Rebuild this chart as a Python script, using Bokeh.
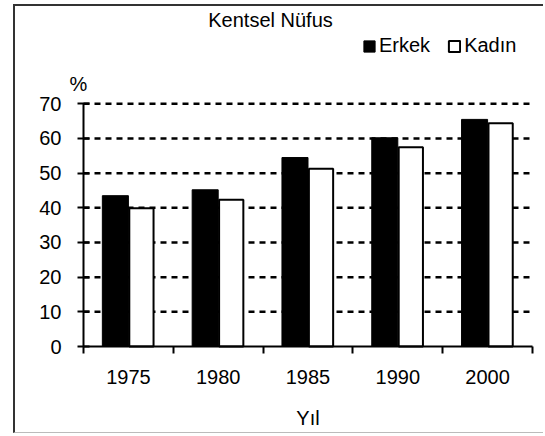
from bokeh.plotting import figure
from bokeh.models import (ColumnDataSource, FixedTicker, Label, Legend, LegendItem, Range1d)
from bokeh.transform import dodge
from bokeh.embed import file_html
from bokeh.resources import INLINE

years = ["1975", "1980", "1985", "1990", "2000"]
erkek = [43.5, 45.2, 54.5, 60.2, 65.5]
kadin = [39.9, 42.3, 51.3, 57.5, 64.4]
y_ticks = [0, 10, 20, 30, 40, 50, 60, 70]

FONT = "Liberation Sans"
FS = "20px"

n = len(years)
pos = [i + 0.5 for i in range(n)]
src = ColumnDataSource(dict(x=pos, erkek=erkek, kadin=kadin))
grid_src = ColumnDataSource(dict(y=y_ticks[1:], x0=[0] * (len(y_ticks) - 1),
                                 x1=[n] * (len(y_ticks) - 1)))

W, H = 530, 429
# frame fills the whole canvas; axes are fixed at x=0 / y=0
x_px = 449 / n           # pixels per category
y_px = 242.7 / 70        # pixels per percent
x_start = -68 / x_px
x_end = n + (W - 68 - 449) / x_px
y_start = -(H - 340) / y_px
y_end = 70 + 97.3 / y_px

p = figure(width=W, height=H, output_backend="svg", toolbar_location=None,
           x_range=Range1d(x_start, x_end), y_range=Range1d(y_start, y_end),
           min_border=0, margin=(4, 0, 0, 13))
p.styles = {"border-left": "2px solid #333333", "border-top": "2px solid #333333",
            "border-bottom": "1px solid #bbbbbb"}
p.outline_line_color = None
p.background_fill_color = "white"
p.border_fill_color = "white"
p.grid.visible = False

p.segment(x0="x0", x1="x1", y0="y", y1="y", source=grid_src, line_color="black",
          line_width=2.5, line_dash="6 5")

r1 = p.vbar(x=dodge("x", -0.145), top="erkek", width=0.29, source=src,
            fill_color="black", line_color="black", line_width=1)
r2 = p.vbar(x=dodge("x", 0.145), top="kadin", width=0.27, source=src,
            fill_color="white", line_color="black", line_width=2)

# x axis
xa = p.xaxis[0]
xa.fixed_location = 0
xa.bounds = (0, n)
xa.ticker = FixedTicker(ticks=pos, minor_ticks=list(range(n + 1)))
xa.major_label_overrides = {v: y for v, y in zip(pos, years)}
xa.major_tick_line_color = None
xa.major_tick_out = 7
xa.major_tick_in = 0
xa.minor_tick_out = 7
xa.minor_tick_in = 0
xa.minor_tick_line_width = 2
xa.minor_tick_line_color = "black"
xa.axis_line_width = 2
xa.axis_line_color = "black"
xa.major_label_text_font = FONT
xa.major_label_text_font_size = FS
xa.major_label_text_color = "black"
xa.major_label_standoff = 16
xa.axis_label = "Yıl"
xa.axis_label_text_font = FONT
xa.axis_label_text_font_size = FS
xa.axis_label_text_font_style = "normal"
xa.axis_label_text_color = "black"
xa.axis_label_standoff = 20

# y axis
ya = p.yaxis[0]
ya.fixed_location = 0
ya.bounds = (0, 70)
ya.ticker = FixedTicker(ticks=y_ticks, minor_ticks=[])
ya.major_tick_in = 6
ya.major_tick_out = 6
ya.major_tick_line_width = 2
ya.major_tick_line_color = "black"
ya.axis_line_width = 2
ya.axis_line_color = "black"
ya.major_label_text_font = FONT
ya.major_label_text_font_size = FS
ya.major_label_text_color = "black"
ya.major_label_standoff = 16

# title and % label
p.add_layout(Label(x=n / 2, y=70, x_offset=-37.5, y_offset=84, text="Kentsel Nüfus",
                   text_font=FONT, text_font_size=FS, text_align="center",
                   text_baseline="alphabetic", text_color="black"))
p.add_layout(Label(x=0, y=70, x_offset=-5, y_offset=20, text="%",
                   text_font=FONT, text_font_size=FS, text_align="center",
                   text_baseline="alphabetic", text_color="black"))

legend = Legend(items=[LegendItem(label="Erkek", renderers=[r1]),
                       LegendItem(label="Kadın", renderers=[r2])],
                location=(347, 378), orientation="horizontal",
                glyph_width=14, glyph_height=14, label_standoff=3, spacing=17,
                padding=0, margin=0, border_line_color=None, background_fill_alpha=0,
                label_text_font=FONT, label_text_font_size=FS, label_text_color="black")
p.add_layout(legend, "center")

open("out.html", "w").write(file_html(p, INLINE))
